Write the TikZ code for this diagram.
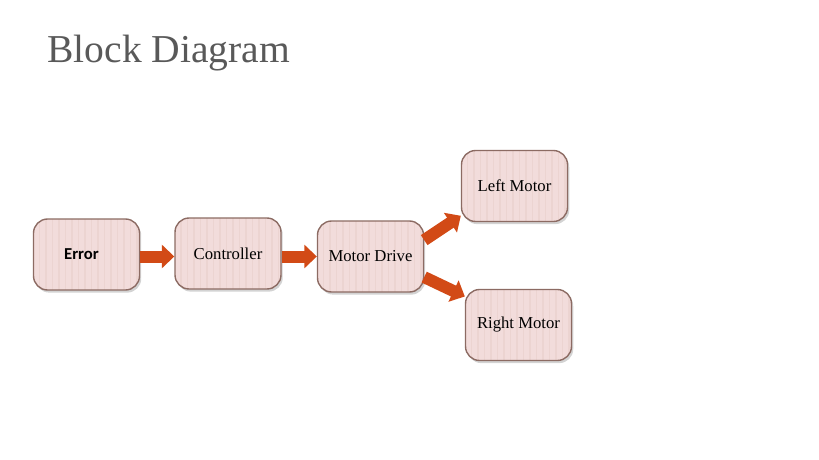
\documentclass[tikz,border=0pt]{standalone}
\usepackage{fontspec}
\setmainfont{Liberation Serif}
\newfontfamily\errorfont{Carlito}
\usepackage{tikz}
\usetikzlibrary{
    positioning,   % Required for relative placement
    arrows.meta,   % Required for the block arrowheads
    shadows        % Required for the box shadows
}
\definecolor{boxfill}{HTML}{F2DCDB}
\definecolor{boxstripe}{HTML}{ECD4D1}
\definecolor{boxline}{HTML}{8C6B63}
\definecolor{flowred}{HTML}{D24A16}
\definecolor{titlegray}{HTML}{595959}

\begin{document}
\begin{tikzpicture}[
        x=0.02cm, y=-0.02cm,
        % Styles
        block/.style={rectangle, rounded corners=8pt, draw=boxline, thick, fill=boxfill,
            minimum width=2.12cm, minimum height=1.42cm, font=\fontsize{9.5}{11}\selectfont,
            drop shadow={shadow xshift=1pt, shadow yshift=-1.5pt, opacity=0.35, fill=gray},
            path picture={
                \foreach \k in {0.12,0.25,...,2.2}
                    \draw[boxstripe, line width=0.6pt]
                        ([xshift=\k cm]path picture bounding box.south west) --
                        ([xshift=\k cm]path picture bounding box.north west);
            }},
        flow/.style={-{Triangle[width=0.46cm, length=0.25cm]}, line width=0.24cm, flowred}
    ]

    % --- Page frame ---
    \useasboundingbox (0,0) rectangle (819,460);

    % --- Title ---
    \node[anchor=base west, inner sep=0pt, text=titlegray, font=\fontsize{22.5}{27}\selectfont]
        (title) at (47,62) {Block Diagram};

    % --- Blocks ---
    \node[block, font=\errorfont\bfseries\fontsize{9.5}{11}\selectfont] (error) at (86.5,254.5) {Error\hspace*{0.2cm}};
    \node[block] (controller) at (228,253.5) {Controller};
    \node[block] (drive) at (370.5,256.5) {Motor Drive};
    \node[block] (leftmotor) at (514.5,186) {Left Motor};
    \node[block] (rightmotor) at (518.5,325) {Right Motor};

    % --- Block arrows ---
    \draw[flow] (error.east |- drive) -- (controller.west |- drive);
    \draw[flow] (controller.east |- drive) -- (drive.west);
    \draw[flow] (drive.17) -- (leftmotor.209);
    \draw[flow] (drive.-21) -- (rightmotor.152);

\end{tikzpicture}
\end{document}
